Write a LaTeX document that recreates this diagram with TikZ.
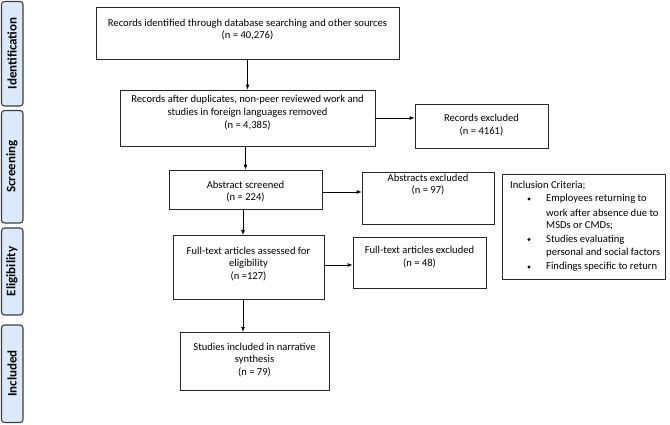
\documentclass[tikz,border=0pt]{standalone}
\usepackage{fontspec}
\setmainfont{Carlito}
\usetikzlibrary{arrows.meta}
\definecolor{bandfill}{RGB}{219,234,250}
\definecolor{bandline}{RGB}{60,60,60}
\definecolor{boxline}{RGB}{40,40,40}
\tikzset{
  band/.style={draw=bandline, line width=1.1pt, fill=bandfill, rounded corners=3pt},
  bandtext/.style={rotate=90, font=\fontsize{13}{15}\selectfont\bfseries},
  boxnode/.style={draw=boxline, line width=0.8pt, inner sep=0pt},
  txt/.style={align=center, font=\fontsize{10.6}{12.8}\selectfont, inner sep=0pt},
  crit/.style={anchor=west, font=\fontsize{10.6}{12}\selectfont, inner sep=0pt},
  arr/.style={draw=black, line width=0.8pt, -{Latex[length=5pt,width=4pt]}},
}
\newcommand{\bx}[5]{% name, x1, y1, x2, y2
  \node[boxnode, minimum width={(#4-#2)*1pt}, minimum height={(#5-#3)*1pt}] (#1) at ({(#2+#4)/2*1pt},{-(#3+#5)/2*1pt}) {};}
\begin{document}
\begin{tikzpicture}[x=1pt,y=1pt]
\useasboundingbox (0,0) rectangle (670,-425);
% side bands
\draw[band] (1.5,-1.5) rectangle (23,-106);
\node[bandtext] (bid) at (12,-53.5) {Identification};
\draw[band] (1.5,-110.5) rectangle (23,-223);
\node[bandtext] (bsc) at (12,-166.5) {Screening};
\draw[band] (1.5,-228) rectangle (23,-315);
\node[bandtext] (bel) at (12,-271.5) {Eligibility};
\draw[band] (1.5,-325) rectangle (23,-422.5);
\node[bandtext] (bin) at (12,-373.5) {Included};
% boxes
\bx{b1}{96}{7}{399}{59}
\node[txt] (t1) at (247.5,-29.5) {Records identified through database searching and other sources\\(n = 40,276)};
\bx{b2}{120}{90}{375}{146}
\node[txt] (t2) at (247.5,-112.5) {Records after duplicates, non-peer reviewed work and\\studies in foreign languages removed\\(n = 4,385)};
\bx{rex}{415}{104}{548}{148}
\node[txt] (t3) at (481.5,-125) {Records excluded\\(n = 4161)};
\bx{abs}{169}{170}{322}{209}
\node[txt] (t4) at (245.5,-191.5) {Abstract screened\\(n = 224)};
\bx{absx}{362}{172}{494}{224}
\node[txt] (t5) at (428,-184.5) {Abstracts excluded\\(n = 97)};
\bx{ft}{173}{235}{324}{299}
\node[txt] (t6) at (248.5,-264) {Full-text articles assessed for\\eligibility\\(n =127)};
\bx{ftx}{353}{237}{486}{288}
\node[txt] (t7) at (419.5,-257) {Full-text articles excluded\\(n = 48)};
\bx{st}{180}{332}{329}{390}
\node[txt] (t8) at (254.5,-360) {Studies included in narrative\\synthesis\\(n = 79)};
% inclusion criteria
\bx{crt}{502}{174}{665}{279}
\node[crit] (c0) at (510,-185) {Inclusion Criteria;};
\node[crit] (c1) at (546,-199) {Employees returning to};
\node[crit] (c2) at (546,-212.5) {work after absence due to};
\node[crit] (c3) at (546,-226) {MSDs or CMDs;};
\node[crit] (c4) at (546,-239.5) {Studies evaluating};
\node[crit] (c5) at (546,-253) {personal and social factors};
\node[crit] (c6) at (546,-267) {Findings specific to return};
\foreach \yy in {199,239.5,267}
  \fill (529,-\yy) circle (1.6pt);
% arrows
\draw[arr] (b1.south) -- (b2.north);
\draw[arr] (b2.east |- 0,-118) -- (rex.west |- 0,-118);
\draw[arr] (abs.north |- b2.south) -- (abs.north);
\draw[arr] (abs.east |- 0,-192) -- (absx.west |- 0,-192);
\draw[arr] (243,-209) -- (243,-235);
\draw[arr] (ft.east |- 0,-265) -- (ftx.west |- 0,-265);
\draw[arr] (243,-299) -- (243,-332);
\end{tikzpicture}
\end{document}
